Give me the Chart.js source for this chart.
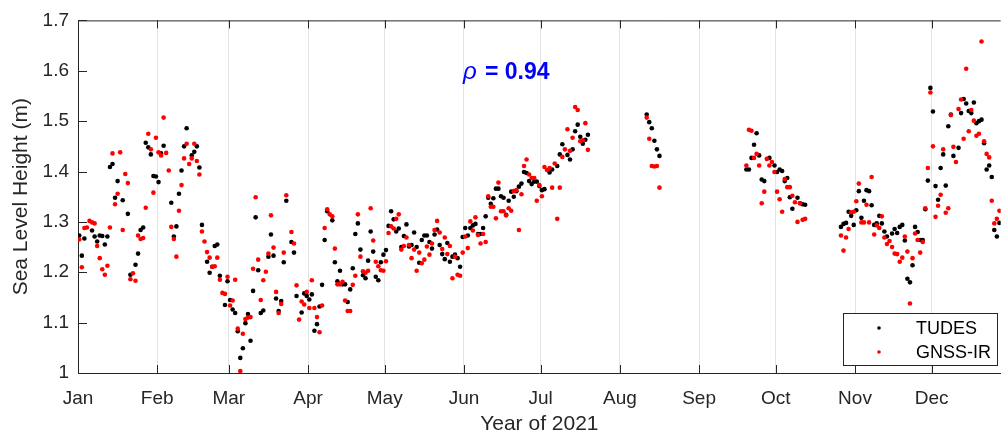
<!DOCTYPE html>
<html>
<head>
<meta charset="utf-8">
<script src="https://cdn.jsdelivr.net/npm/chart.js@4.4.0/dist/chart.umd.min.js"></script>
<style>
  html, body { margin: 0; padding: 0; background: #fff; }
  #wrap { width: 1003px; height: 439px; }
</style>
</head>
<body>
<div id="wrap"><canvas id="chart" width="1003" height="439"></canvas></div>
<script>
// month ticks (day of year, 0 = Jan 1)
const monthStarts = [0, 31, 59, 90, 120, 151, 181, 212, 243, 273, 304, 334];
const monthNames = ['Jan', 'Feb', 'Mar', 'Apr', 'May', 'Jun', 'Jul', 'Aug', 'Sep', 'Oct', 'Nov', 'Dec'];
const yTicks = [1, 1.1, 1.2, 1.3, 1.4, 1.5, 1.6, 1.7];

// TUDES tide gauge, day of year + daily height (m)
const tudesDays = [
  0, 1, 2, 5, 6, 7, 8, 9, 10, 11, 12, 13, 14, 15, 17, 19, 20, 22, 23, 24, 25, 26, 27, 28, 29, 30,
  31, 32, 33, 36, 37, 38, 39, 40, 41, 42, 44, 45, 46, 47, 48, 50, 51, 52, 53, 54, 55, 57, 58, 59,
  60, 61, 62, 63, 64, 65, 66, 67, 68, 69, 70, 71, 72, 74, 75, 76, 77, 78, 79, 80, 81, 83, 84, 85,
  87, 88, 89, 90, 91, 92, 93, 94, 95, 96, 97, 99, 100, 101, 102, 103, 104, 105, 106, 107, 108, 109,
  110, 111, 112, 113, 114, 115, 116, 117, 118, 119, 120, 121, 122, 123, 124, 125, 126, 127, 128,
  129, 130, 131, 132, 133, 134, 135, 136, 137, 138, 139, 140, 141, 142, 143, 144, 145, 146, 147,
  148, 149, 150, 151, 152, 153, 154, 155, 156, 157, 158, 159, 160, 161, 162, 163, 164, 165, 166,
  167, 168, 169, 170, 171, 172, 173, 174, 175, 176, 177, 178, 179, 180, 181, 182, 184, 185, 187,
  188, 189, 191, 192, 193, 194, 195, 196, 197, 198, 199,
  222, 223, 224, 225, 226, 227,
  261, 262, 263, 264, 265, 266, 267, 268, 270, 272, 273, 274, 275, 276, 277, 278, 279, 281, 282, 283, 284,
  298, 299, 300, 301, 302, 303, 304, 305, 306, 307, 308, 309, 310, 311, 312, 313, 314, 315, 316,
  318, 319, 320, 321, 322, 323, 324, 325, 326, 327, 328, 329, 330, 331, 332, 333, 334, 335, 336,
  337, 338, 339, 340, 341, 342, 344, 345, 346, 347, 348, 349, 350, 351, 352, 353, 354, 355, 356,
  357, 358, 359, 360
];
const tudesHeight = [
  1.273, 1.233, 1.267, 1.283, 1.271, 1.261, 1.273, 1.272, 1.255, 1.271, 1.409, 1.415, 1.348, 1.381, 1.343, 1.316, 1.195, 1.215, 1.237, 1.284, 1.289, 1.457, 1.448, 1.434, 1.391, 1.390,
  1.379, 1.436, 1.451, 1.338, 1.271, 1.291, 1.356, 1.402, 1.450, 1.486, 1.432, 1.439, 1.450, 1.408, 1.294, 1.221, 1.199, 1.211, 1.252, 1.255, 1.193, 1.135, 1.182, 1.145,
  1.126, 1.119, 1.083, 1.030, 1.049, 1.099, 1.117, 1.064, 1.163, 1.309, 1.204, 1.119, 1.124, 1.231, 1.275, 1.233, 1.148, 1.123, 1.143, 1.220, 1.342, 1.260, 1.239, 1.153,
  1.120, 1.158, 1.153, 1.146, 1.156, 1.084, 1.097, 1.132, 1.175, 1.264, 1.321, 1.303, 1.220, 1.182, 1.203, 1.176, 1.176, 1.141, 1.166, 1.208, 1.276, 1.297,
  1.245, 1.194, 1.188, 1.223, 1.281, 1.241, 1.191, 1.184, 1.220, 1.235, 1.244, 1.292, 1.321, 1.305, 1.281, 1.287, 1.250, 1.272, 1.295,
  1.251, 1.254, 1.279, 1.250, 1.219, 1.264, 1.273, 1.273, 1.260, 1.247, 1.275, 1.285, 1.254, 1.236, 1.226, 1.258, 1.221, 1.231, 1.235,
  1.228, 1.211, 1.270, 1.288, 1.273, 1.288, 1.293, 1.296, 1.276, 1.276, 1.288, 1.311, 1.348, 1.336, 1.347, 1.366, 1.366, 1.351, 1.348,
  1.314, 1.342, 1.360, 1.350, 1.361, 1.370, 1.376, 1.399, 1.397, 1.381, 1.375, 1.380, 1.380, 1.371, 1.363, 1.365, 1.398, 1.404, 1.411,
  1.434, 1.454, 1.433, 1.424, 1.444, 1.480, 1.493, 1.469, 1.455, 1.463, 1.473,
  1.513, 1.498, 1.486, 1.461, 1.444, 1.431,
  1.404, 1.404, 1.427, 1.453, 1.476, 1.432, 1.384, 1.381, 1.427, 1.412, 1.399, 1.404, 1.401, 1.381, 1.387, 1.349, 1.326, 1.348, 1.337, 1.335, 1.334,
  1.290, 1.296, 1.298, 1.320, 1.312, 1.294, 1.323, 1.361, 1.308, 1.342, 1.363, 1.361, 1.333, 1.294, 1.297, 1.312, 1.297, 1.281, 1.271,
  1.277, 1.286, 1.278, 1.290, 1.294, 1.263, 1.187, 1.180, 1.214, 1.290, 1.280, 1.264, 1.264, 1.325, 1.382, 1.566, 1.519, 1.371, 1.344,
  1.407, 1.434, 1.372, 1.490, 1.513, 1.431, 1.447, 1.516, 1.544, 1.535, 1.520, 1.516, 1.537, 1.496, 1.500, 1.503, 1.456, 1.404, 1.412,
  1.389, 1.284, 1.271, 1.298
];

// GNSS-IR retrievals, day of year + daily height (m)
const gnssDays = [
  0, 1, 2, 3, 4, 5, 6, 7, 8, 9, 10, 11, 12, 13, 14, 15, 16, 17, 18, 19, 20, 21, 22, 23, 24, 25, 26, 27, 28, 29,
  30, 31, 32, 33, 34, 35, 36, 37, 38, 39, 40, 41, 42, 43, 44, 45, 46, 47, 48, 49, 50, 51, 52, 53, 54, 55, 56, 57, 58, 59,
  60, 61, 62, 63, 64, 65, 66, 67, 68, 69, 70, 71, 72, 73, 74, 75, 76, 77, 78, 79, 80, 81, 83, 84, 85, 86, 87, 88, 89,
  90, 91, 92, 93, 94, 95, 96, 97, 98, 99, 100, 101, 102, 103, 104, 105, 106, 107, 108, 109, 110, 111, 112, 113, 114, 115, 116, 117, 118, 119,
  120, 121, 122, 123, 124, 125, 126, 127, 128, 129, 130, 131, 132, 133, 134, 135, 136, 137, 138, 139, 140, 141, 142, 143, 144, 145, 146, 147, 148, 149,
  150, 151, 152, 153, 154, 155, 156, 157, 158, 159, 160, 161, 162, 163, 164, 165, 166, 167, 168, 169, 170, 171, 172, 173, 174, 175, 176, 177, 178, 179,
  180, 181, 182, 183, 184, 185, 186, 187, 188, 189, 190, 191, 192, 193, 194, 195, 196, 197, 198, 199,
  222, 223, 224, 225, 226, 227,
  261, 262, 263, 264, 265, 266, 267, 268, 269, 270, 271, 272, 273, 274, 275, 276, 277, 278, 279, 280, 281, 282, 283, 284,
  298, 299, 300, 301, 302, 303, 304, 305, 306, 307, 308, 309, 310, 311, 312, 313, 314, 315, 316, 317, 318, 319, 320, 321, 322, 323, 324, 325, 326, 327, 328, 329,
  330, 331, 332, 333, 334, 335, 336, 337, 338, 339, 340, 341, 342, 343, 344, 345, 346, 347, 348, 349, 350, 351, 352, 353, 354, 355, 356, 357, 358, 359, 360
];
const gnssHeight = [
  1.265, 1.210, 1.288, 1.289, 1.302, 1.299, 1.297, 1.252, 1.228, 1.206, 1.195, 1.213, 1.289, 1.436, 1.335, 1.356, 1.438, 1.284, 1.395, 1.377, 1.186, 1.198, 1.183, 1.273, 1.266, 1.268, 1.328, 1.475, 1.444, 1.358,
  1.467, 1.438, 1.432, 1.507, 1.437, 1.402, 1.290, 1.266, 1.231, 1.322, 1.373, 1.426, 1.455, 1.415, 1.426, 1.455, 1.421, 1.394, 1.281, 1.261, 1.240, 1.229, 1.211, 1.212, 1.229, 1.185, 1.159, 1.157, 1.191, 1.134,
  1.144, 1.185, 1.088, 1.004, 1.078, 1.107, 1.110, 1.111, 1.207, 1.349, 1.225, 1.145, 1.184, 1.201, 1.237, 1.313, 1.249, 1.161, 1.119, 1.137, 1.239, 1.353, 1.280, 1.257, 1.174, 1.106, 1.142, 1.136, 1.161,
  1.129, 1.184, 1.129, 1.111, 1.081, 1.134, 1.288, 1.325, 1.315, 1.311, 1.247, 1.176, 1.176, 1.181, 1.144, 1.123, 1.123, 1.175, 1.193, 1.315, 1.231, 1.202, 1.199, 1.203, 1.327, 1.263, 1.221, 1.212, 1.204, 1.203,
  1.222, 1.278, 1.291, 1.287, 1.306, 1.315, 1.245, 1.252, 1.269, 1.254, 1.228, 1.245, 1.203, 1.239, 1.218, 1.225, 1.251, 1.235, 1.257, 1.284, 1.302, 1.279, 1.246, 1.269, 1.236, 1.252, 1.188, 1.231, 1.195, 1.193,
  1.239, 1.271, 1.248, 1.301, 1.283, 1.309, 1.274, 1.257, 1.276, 1.260, 1.351, 1.330, 1.330, 1.307, 1.378, 1.321, 1.321, 1.313, 1.327, 1.322, 1.361, 1.363, 1.284, 1.355, 1.411, 1.424, 1.394, 1.387, 1.387, 1.342,
  1.373, 1.351, 1.409, 1.403, 1.407, 1.368, 1.416, 1.306, 1.368, 1.429, 1.444, 1.484, 1.441, 1.467, 1.528, 1.522, 1.460, 1.462, 1.496, 1.443,
  1.507, 1.465, 1.411, 1.410, 1.411, 1.368,
  1.412, 1.483, 1.481, 1.427, 1.435, 1.412, 1.337, 1.360, 1.425, 1.412, 1.419, 1.399, 1.360, 1.345, 1.320, 1.385, 1.369, 1.369, 1.352, 1.339, 1.300, 1.337, 1.304, 1.306,
  1.273, 1.243, 1.269, 1.286, 1.319, 1.320, 1.341, 1.376, 1.299, 1.299, 1.334, 1.299, 1.389, 1.275, 1.293, 1.288, 1.311, 1.269, 1.256, 1.262, 1.250, 1.237, 1.236, 1.221, 1.229, 1.271, 1.241, 1.138, 1.228, 1.277, 1.264, 1.239,
  1.260, 1.327, 1.407, 1.557, 1.450, 1.310, 1.332, 1.354, 1.444, 1.318, 1.327, 1.512, 1.449, 1.419, 1.524, 1.543, 1.465, 1.604, 1.480, 1.522, 1.501, 1.471, 1.475, 1.658, 1.460, 1.435, 1.428, 1.342, 1.297, 1.306, 1.322
];

const FONT = '"Liberation Sans", Arial, Helvetica, sans-serif';
const axisColor = '#262626';
const gridColor = '#e3e3e3';

// daily values plotted at mid-day
function toPoints(days, heights) {
  return days.map((d, i) => ({ x: d + 0.5, y: heights[i] }));
}

const series = [
  { label: 'TUDES', color: '#000000', points: toPoints(tudesDays, tudesHeight) },
  { label: 'GNSS-IR', color: '#ff0000', points: toPoints(gnssDays, gnssHeight) }
];

const decorPlugin = {
  id: 'decor',
  afterDraw(chart) {
    const { ctx, chartArea: a, scales: { x, y } } = chart;
    ctx.save();
    ctx.strokeStyle = axisColor;
    ctx.lineWidth = 1;

    // top frame line
    ctx.beginPath();
    ctx.moveTo(a.left, a.top + 0.5);
    ctx.lineTo(a.right, a.top + 0.5);
    ctx.stroke();

    // inward tick marks
    ctx.beginPath();
    monthStarts.forEach(v => {
      const px = Math.round(x.getPixelForValue(v)) + 0.5;
      ctx.moveTo(px, a.bottom);
      ctx.lineTo(px, a.bottom - 8);
      ctx.moveTo(px, a.top);
      ctx.lineTo(px, a.top + 8);
    });
    yTicks.forEach(v => {
      const py = Math.round(y.getPixelForValue(v)) + 0.5;
      ctx.moveTo(a.left, py);
      ctx.lineTo(a.left + 9, py);
    });
    ctx.stroke();

    // legend box
    const lx = 843.5, ly = 313.5, lw = 154, lh = 52;
    ctx.fillStyle = '#ffffff';
    ctx.fillRect(lx, ly, lw, lh);
    ctx.strokeStyle = axisColor;
    ctx.strokeRect(lx, ly, lw, lh);
    series.forEach((s, i) => {
      const cy = 328 + i * 24;
      ctx.fillStyle = s.color;
      ctx.beginPath();
      ctx.arc(879, cy, 1.8, 0, Math.PI * 2);
      ctx.fill();
      ctx.fillStyle = '#000000';
      ctx.font = '18px ' + FONT;
      ctx.textAlign = 'left';
      ctx.textBaseline = 'middle';
      ctx.fillText(s.label, 916, cy + 1);
    });

    // correlation annotation
    ctx.fillStyle = '#0000ff';
    ctx.textBaseline = 'alphabetic';
    ctx.font = 'italic 24px ' + FONT;
    ctx.fillText('ρ', 463, 79);
    ctx.font = 'bold 23px ' + FONT;
    ctx.fillText('= 0.94', 485, 79);
    ctx.restore();
  }
};

new Chart(document.getElementById('chart'), {
  type: 'scatter',
  data: {
    datasets: series.map((s, i) => ({
      label: s.label,
      data: s.points,
      backgroundColor: s.color,
      borderColor: s.color,
      borderWidth: 0,
      pointRadius: 2.3,
      pointHoverRadius: 2.3,
      order: 2 - i
    }))
  },
  options: {
    responsive: false,
    animation: false,
    devicePixelRatio: 1,
    layout: { padding: { top: 17, right: 0, bottom: 0, left: 0 } },
    plugins: {
      legend: { display: false },
      tooltip: { enabled: false }
    },
    scales: {
      x: {
        type: 'linear',
        min: 0,
        max: 361,
        afterBuildTicks: s => { s.ticks = monthStarts.map(v => ({ value: v })); },
        afterFit: s => { s.height = 66; },
        ticks: {
          autoSkip: false,
          maxRotation: 0,
          padding: 14,
          color: axisColor,
          font: { family: FONT, size: 19 },
          callback: v => monthNames[monthStarts.indexOf(v)]
        },
        grid: { color: gridColor, lineWidth: 1, drawTicks: false },
        border: { display: true, color: axisColor, width: 1 },
        title: {
          display: true,
          text: 'Year of 2021',
          color: axisColor,
          font: { family: FONT, size: 21 },
          padding: { top: 0, bottom: 2 }
        }
      },
      y: {
        min: 1,
        max: 1.7,
        afterBuildTicks: s => { s.ticks = yTicks.map(v => ({ value: v })); },
        afterFit: s => { s.width = 78; },
        ticks: {
          padding: 9,
          color: axisColor,
          font: { family: FONT, size: 19 },
          callback: v => String(v)
        },
        grid: { display: false, drawTicks: false },
        border: { display: true, color: axisColor, width: 1 },
        title: {
          display: true,
          text: 'Sea Level Height (m)',
          color: axisColor,
          font: { family: FONT, size: 21 },
          padding: { top: 9, bottom: 0 }
        }
      }
    }
  },
  plugins: [decorPlugin]
});
</script>
</body>
</html>
